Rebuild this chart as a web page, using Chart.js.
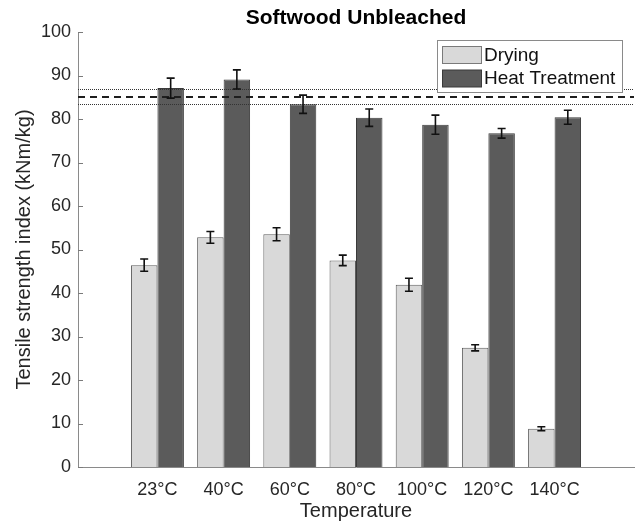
<!DOCTYPE html>
<html>
<head>
<meta charset="utf-8">
<script src="https://cdn.jsdelivr.net/npm/chart.js@4/dist/chart.umd.min.js"></script>
<style>
html,body{margin:0;padding:0;background:#fff;}
canvas{display:block;}
</style>
</head>
<body>
<canvas id="c" width="636" height="523"></canvas>
<script>
const categories = ['23°C','40°C','60°C','80°C','100°C','120°C','140°C'];
const dryingValues = [46.4, 52.8, 53.5, 47.5, 41.9, 27.4, 8.8];
const dryingErrors = [1.4, 1.35, 1.5, 1.2, 1.5, 0.7, 0.45];
const heatValues = [87.1, 89.1, 83.4, 80.3, 78.7, 76.7, 80.4];
const heatErrors = [2.3, 2.2, 2.1, 2.0, 2.2, 1.1, 1.6];
const refMean = 85.1;
const refBand = [86.8, 83.4];
const yTickValues = [0,10,20,30,40,50,60,70,80,90,100];
const seriesLabels = ['Drying','Heat Treatment'];
const chartTitle = 'Softwood Unbleached';
const xTitle = 'Temperature';
const yTitle = 'Tensile strength index (kNm/kg)';

const FONT = '"Liberation Sans", Arial, Helvetica, sans-serif';
Chart.defaults.font.family = FONT;
Chart.defaults.color = '#262626';

const dryFill = '#d9d9d9', dryBorder = '#5c5c5c';
const heatFill = '#5b5b5b', heatBorder = '#3a3a3a';

const errorSets = [dryingErrors, heatErrors];

const overlayPlugin = {
  id: 'overlay',
  afterDatasetsDraw(chart) {
    const ctx = chart.ctx;
    const xs = chart.scales.x, ys = chart.scales.y;
    const area = chart.chartArea;
    ctx.save();
    // inward y tick marks
    ctx.strokeStyle = '#7a7a7a';
    ctx.lineWidth = 1;
    yTickValues.forEach(v => {
      const y = Math.round(ys.getPixelForValue(v)) + 0.5;
      ctx.beginPath();
      ctx.moveTo(area.left, y);
      ctx.lineTo(area.left + 5, y);
      ctx.stroke();
    });
    // reference lines
    ctx.strokeStyle = '#333';
    ctx.lineWidth = 1;
    ctx.setLineDash([1, 1]);
    refBand.forEach(v => {
      const y = Math.round(ys.getPixelForValue(v)) + 0.5;
      ctx.beginPath();
      ctx.moveTo(area.left, y);
      ctx.lineTo(area.right, y);
      ctx.stroke();
    });
    ctx.strokeStyle = '#1e1e1e';
    ctx.lineWidth = 2;
    ctx.setLineDash([7, 5]);
    {
      const y = Math.round(ys.getPixelForValue(refMean));
      ctx.beginPath();
      ctx.moveTo(area.left, y);
      ctx.lineTo(area.right, y);
      ctx.stroke();
    }
    ctx.setLineDash([]);
    // error bars
    ctx.strokeStyle = '#111';
    ctx.lineWidth = 1.6;
    chart.data.datasets.forEach((ds, di) => {
      const meta = chart.getDatasetMeta(di);
      meta.data.forEach((bar, i) => {
        const v = ds.data[i].y, e = errorSets[di][i];
        const x = bar.x;
        const y1 = ys.getPixelForValue(v + e), y2 = ys.getPixelForValue(v - e);
        ctx.beginPath();
        ctx.moveTo(x, y1); ctx.lineTo(x, y2);
        ctx.moveTo(x - 4, y1); ctx.lineTo(x + 4, y1);
        ctx.moveTo(x - 4, y2); ctx.lineTo(x + 4, y2);
        ctx.stroke();
      });
    });
    // legend
    const bx = 437.5, by = 40.5, bw = 185, bh = 52;
    ctx.fillStyle = '#fff';
    ctx.fillRect(bx, by, bw, bh);
    ctx.strokeStyle = '#8a8a8a';
    ctx.lineWidth = 1;
    ctx.strokeRect(bx, by, bw, bh);
    const fills = [dryFill, heatFill], borders = ['#7a7a7a', heatBorder];
    ctx.font = '19px ' + FONT;
    ctx.textBaseline = 'middle';
    ctx.textAlign = 'left';
    chart.data.datasets.forEach((ds, di) => {
      const sy = 46 + di * 23.5;
      ctx.fillStyle = fills[di];
      ctx.fillRect(442.5, sy + 0.5, 39, 17);
      ctx.strokeStyle = borders[di];
      ctx.strokeRect(442.5, sy + 0.5, 39, 17);
      ctx.fillStyle = '#111';
      ctx.fillText(ds.label, 484, sy + 9.5);
    });
    ctx.restore();
  }
};

const mkData = (vals) => vals.map((v, i) => ({x: i, y: v}));

new Chart(document.getElementById('c'), {
  type: 'bar',
  data: {
    datasets: [
      {label: seriesLabels[0], data: mkData(dryingValues), backgroundColor: dryFill, borderColor: dryBorder, borderWidth: 1, categoryPercentage: 0.8, barPercentage: 1.0},
      {label: seriesLabels[1], data: mkData(heatValues), backgroundColor: heatFill, borderColor: heatBorder, borderWidth: 1, categoryPercentage: 0.8, barPercentage: 1.0}
    ]
  },
  options: {
    responsive: false,
    animation: false,
    devicePixelRatio: 1,
    layout: {padding: {left: 0, right: 2, top: 0, bottom: 0}},
    plugins: {
      legend: {display: false},
      tooltip: {enabled: false},
      title: {
        display: true, text: chartTitle, fullSize: false,
        font: {size: 21, weight: 'bold', lineHeight: 1},
        color: '#000',
        padding: {top: 8, bottom: 3}
      }
    },
    scales: {
      x: {
        type: 'linear', min: -1.2, max: 7.2, offset: false,
        grid: {display: false, offset: false, drawTicks: false},
        border: {display: true, color: '#8a8a8a', width: 1},
        afterBuildTicks: (scale) => { scale.ticks = categories.map((c, i) => ({value: i})); },
        ticks: {
          autoSkip: false, maxRotation: 0, padding: 12,
          font: {size: 18}, color: '#262626',
          callback: (v) => categories[v]
        },
        title: {display: true, text: xTitle, font: {size: 20, lineHeight: 1.2}, color: '#262626', padding: {top: 0, bottom: 0}},
        afterFit: (scale) => { scale.height = 56; }
      },
      y: {
        min: 0, max: 100,
        grid: {display: false, drawTicks: false},
        border: {display: true, color: '#8a8a8a', width: 1},
        afterBuildTicks: (scale) => { scale.ticks = yTickValues.map(v => ({value: v})); },
        ticks: {padding: 7, font: {size: 18}, color: '#262626'},
        title: {display: true, text: yTitle, font: {size: 20, lineHeight: 1.2}, color: '#262626', padding: {top: 12, bottom: 0}},
        afterFit: (scale) => { scale.width = 78; }
      }
    }
  },
  plugins: [overlayPlugin]
});
</script>
</body>
</html>
